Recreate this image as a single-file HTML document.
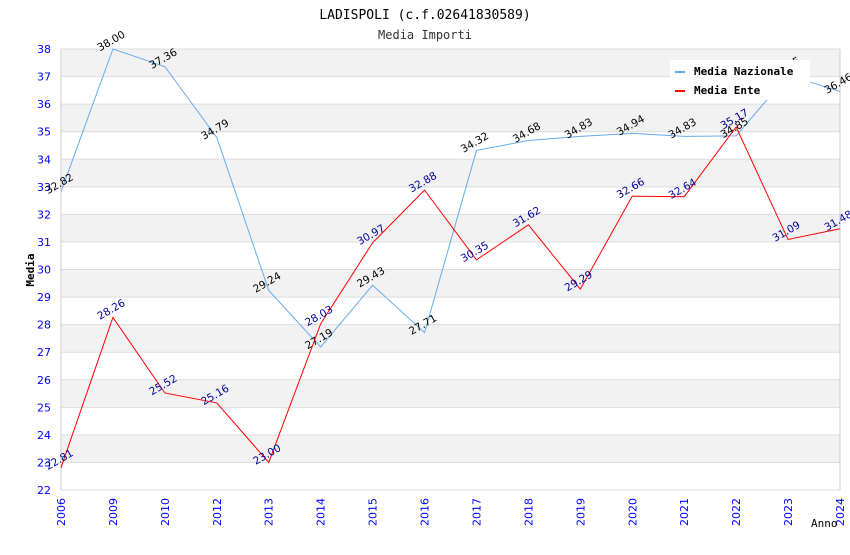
<!DOCTYPE html>
<html><head><meta charset="utf-8"><style>
body{margin:0;background:#fff;}
svg text{font-family:"DejaVu Sans Mono","Liberation Mono",monospace;}
svg text.s{font-family:"DejaVu Sans","Liberation Sans",sans-serif;}
</style></head><body>
<svg id="chart" width="850" height="550" xmlns="http://www.w3.org/2000/svg">
<text x="425" y="19" text-anchor="middle" font-size="13" fill="#000">LADISPOLI (c.f.02641830589)</text>
<text x="425" y="39" text-anchor="middle" font-size="12" fill="#333">Media Importi</text>
<g id="bands"></g><g id="grid"></g><g id="axes"></g><g id="series"></g>
<text x="34" y="270" transform="rotate(-90 34 270)" text-anchor="middle" font-size="11" font-weight="bold">Media</text>
<text x="811" y="527" font-size="11">Anno</text>
<g>
<rect x="670" y="60" width="140" height="40" fill="#fff"/>
<g><rect x="675" y="71" width="10" height="2" fill="#66aaee"/><text x="694" y="75" font-size="11" font-weight="bold">Media Nazionale</text></g>
<g><rect x="675" y="90" width="10" height="2" fill="#ff0000"/><text x="694" y="94" font-size="11" font-weight="bold">Media Ente</text></g>
</g>
</svg>
<script>
const categories=["2006","2009","2010","2012","2013","2014","2015","2016","2017","2018","2019","2020","2021","2022","2023","2024"];
const nazionale=[32.82,38.00,37.36,34.79,29.24,27.19,29.43,27.71,34.32,34.68,34.83,34.94,34.83,34.85,37.05,36.46];
const ente=[22.81,28.26,25.52,25.16,23.00,28.03,30.97,32.88,30.35,31.62,29.29,32.66,32.64,35.17,31.09,31.48];
const yTicks=[22,23,24,25,26,27,28,29,30,31,32,33,34,35,36,37,38];
const NS="http://www.w3.org/2000/svg";
const L=61,R=840,T=49,B=490,yMin=22,yMax=38;
const xs=i=>L+(R-L)*i/(categories.length-1);
const ys=v=>B-(v-yMin)*(B-T)/(yMax-yMin);
function mk(tag,attrs,parent,txt){const e=document.createElementNS(NS,tag);for(const k in attrs)e.setAttribute(k,attrs[k]);if(txt!==undefined)e.textContent=txt;document.getElementById(parent).appendChild(e);return e;}
for(let i=0;i<yTicks.length-1;i++){const v=yTicks[i];
 if(v%2===1){const r=mk('rect',{x:L,y:ys(v+1),width:R-L,height:ys(v)-ys(v+1),fill:'#f2f2f2'},'bands');
 
 }}
yTicks.forEach(v=>{const l=mk('line',{x1:L,x2:R,y1:ys(v),y2:ys(v),stroke:'#dddddd','stroke-width':1},'grid');
 
 
 const t=mk('text',{class:'s',x:L-10,y:ys(v)+4,'text-anchor':'end','font-size':11,fill:'#0000ff'},'axes',String(v));
 
 });
mk('line',{x1:L,x2:L,y1:T,y2:B,stroke:'#ccc'},'axes');
mk('line',{x1:R,x2:R,y1:T,y2:B,stroke:'#ccc'},'axes');
categories.forEach((c,i)=>{const x=xs(i);const t=mk('text',{class:'s',x:x+4,y:B+8,'text-anchor':'end','font-size':11,fill:'#0000ff',transform:`rotate(-90 ${x+4} ${B+8})`},'axes',c);
 
 });
function series(vals,color,lblColor,name){
 const p=mk('polyline',{points:vals.map((v,i)=>xs(i)+','+ys(v)).join(' '),fill:'none',stroke:color,'stroke-width':1},'series');
 
 
 vals.forEach((v,i)=>{const x=xs(i),y=ys(v)-5;
  const t=mk('text',{class:'s',x:x,y:y,'text-anchor':'middle','font-size':10.5,fill:lblColor,transform:`rotate(-30 ${x} ${y})`},'series',v.toFixed(2));
  
  });
}
series(nazionale,'#66aaee','#000','nazionale');
series(ente,'#ff0000','#000099','ente');
</script>
</body></html>
